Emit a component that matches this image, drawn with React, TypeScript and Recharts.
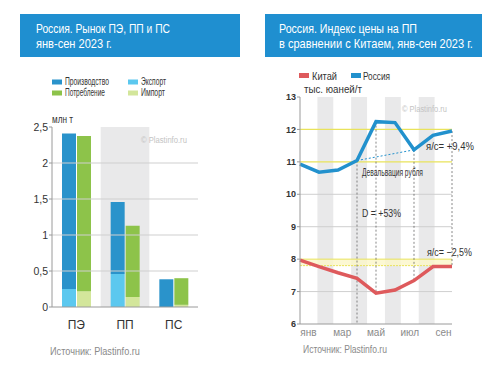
import React, { useLayoutEffect, useRef, useState } from 'react';
import { BarChart, Bar, XAxis, YAxis, ReferenceArea, ReferenceLine, LineChart, Line } from 'recharts';

// ---------- Left chart data ----------
const products = ['ПЭ', 'ПП', 'ПС'];
const production = [2.41, 1.46, 0.385];
const exportVol = [0.25, 0.46, 0.0];
const consumption = [2.375, 1.13, 0.4];
const importVol = [0.22, 0.14, 0.03];
const volumeTicks = [0, 0.5, 1, 1.5, 2, 2.5];

// ---------- Right chart data ----------
const months = ['янв', 'фев', 'мар', 'апр', 'май', 'июн', 'июл', 'авг', 'сен'];
const chinaPrice = [7.97, 7.77, 7.58, 7.41, 6.95, 7.05, 7.34, 7.77, 7.77];
const russiaPrice = [10.93, 10.68, 10.75, 11.04, 12.24, 12.21, 11.37, 11.82, 11.95];
const priceTicks = [6, 7, 8, 9, 10, 11, 12, 13];
const shadedMonths = ['фев', 'апр', 'июн', 'авг'];
const labeledMonths = ['янв', 'мар', 'май', 'июл', 'сен'];

const C = {
  header: '#1f8fd0',
  prod: '#2a93cb',
  exp: '#5cc8ef',
  cons: '#8dc34a',
  imp: '#d3e69b',
  band: '#e9e9ea',
  grid: '#cfcfcf',
  axis: '#9a9a9a',
  china: '#de5a5c',
  russia: '#2291cd',
  yellow: '#e9e35b',
  text: '#333',
  gray: '#8a8a8a',
};

const sans = '"Liberation Sans", Arial, sans-serif';

const barData = products.map((p, i) => ({
  name: p,
  exp: exportVol[i],
  prodRest: production[i] - exportVol[i],
  imp: importVol[i],
  consRest: consumption[i] - importVol[i],
}));

const lineData = months.map((m, i) => ({ i, m, china: chinaPrice[i], russia: russiaPrice[i] }));

const fmtComma = (v: number) => String(v).replace('.', ',');

type TProps = {
  x: number;
  y: number;
  w: number;
  size: number;
  color?: string;
  weight?: string | number;
  children: React.ReactNode;
};
// Text squeezed horizontally (condensed look) to a given width.
const T = ({ x, y, w, size, color = C.text, weight = 'normal', children }: TProps) => {
  const ref = useRef<SVGTextElement>(null);
  const [sx, setSx] = useState(1);
  useLayoutEffect(() => {
    if (ref.current) {
      const nat = ref.current.getComputedTextLength();
      if (nat > 0) setSx(w / nat);
    }
  }, [w, size]);
  return (
    <text
      ref={ref}
      x={0}
      y={0}
      transform={`translate(${x},${y}) scale(${sx},1)`}
      fontSize={size}
      fontFamily={sans}
      fontWeight={weight}
      fill={color}
    >
      {children}
    </text>
  );
};

export default function App() {
  const iApr = months.indexOf('апр');
  const iMay = months.indexOf('май');
  const iJul = months.indexOf('июл');
  const iSep = months.indexOf('сен');
  return (
    <div style={{ position: 'absolute', left: 0, top: 0, width: 500, height: 371, background: '#fff', overflow: 'hidden' }}>
      {/* ---------- Left chart ---------- */}
      <div style={{ position: 'absolute', left: 0, top: 0 }}>
        <BarChart
          width={250}
          height={371}
          data={barData}
          margin={{ top: 127, right: 52, bottom: 34, left: 12 }}
          barCategoryGap={10}
          barGap={1}
        >
          <XAxis
            dataKey="name"
            height={30}
            axisLine={{ stroke: C.axis }}
            tickLine={false}
            tickSize={0}
            tickMargin={13}
            tick={{ fontSize: 12, fill: C.text, fontFamily: sans }}
          />
          <YAxis
            width={40}
            domain={[0, 2.5]}
            ticks={volumeTicks}
            tickFormatter={fmtComma}
            axisLine={{ stroke: C.axis }}
            tickLine={{ stroke: C.axis }}
            tickSize={3}
            tickMargin={1}
            tick={{ fontSize: 10.5, fill: C.text, fontFamily: sans }}
          />
          <ReferenceArea x1="ПП" x2="ПП" y1={0} y2={2.5} fill={C.band} fillOpacity={1} stroke="none" />
          {volumeTicks.slice(1, -1).map((t) => (
            <ReferenceLine key={t} y={t} stroke={C.grid} strokeWidth={1} />
          ))}
          <Bar dataKey="exp" stackId="p" fill={C.exp} isAnimationActive={false} />
          <Bar dataKey="prodRest" stackId="p" fill={C.prod} isAnimationActive={false} />
          <Bar dataKey="imp" stackId="c" fill={C.imp} isAnimationActive={false} />
          <Bar dataKey="consRest" stackId="c" fill={C.cons} isAnimationActive={false} />
        </BarChart>
      </div>

      {/* ---------- Right chart ---------- */}
      <div style={{ position: 'absolute', left: 250, top: 0 }}>
        <LineChart
          width={250}
          height={371}
          data={lineData}
          margin={{ top: 97, right: 48, bottom: 27, left: 20 }}
        >
          <XAxis
            xAxisId="cat"
            type="number"
            dataKey="i"
            domain={[0, months.length]}
            allowDataOverflow
            ticks={labeledMonths.map((m) => months.indexOf(m) + 0.5)}
            tickFormatter={(v: number) => months[Math.floor(v)]}
            height={20}
            axisLine={{ stroke: C.axis }}
            tickLine={false}
            tickSize={0}
            tickMargin={5}
            tick={{ fontSize: 10, fill: C.gray, fontFamily: sans }}
          />
          <XAxis xAxisId="pts" type="number" dataKey="i" domain={[0, months.length - 1]} hide />
          <YAxis
            width={30}
            domain={[6, 13]}
            ticks={priceTicks}
            axisLine={{ stroke: C.axis }}
            tickLine={{ stroke: C.axis }}
            tickSize={3}
            tickMargin={1}
            tick={{ fontSize: 9, fill: C.text, fontFamily: sans, fontWeight: 'bold' }}
          />
          {shadedMonths.map((m) => {
            const k = months.indexOf(m);
            return (
              <ReferenceArea
                key={m}
                xAxisId="cat"
                x1={k + 0.03}
                x2={k + 0.97}
                y1={6}
                y2={13}
                fill={C.band}
                fillOpacity={1}
                stroke="none"
              />
            );
          })}
          {[7, 9, 10].map((t) => (
            <ReferenceLine key={t} xAxisId="pts" y={t} stroke={C.grid} strokeWidth={1} />
          ))}
          <ReferenceArea xAxisId="pts" y1={7.8} y2={8} fill="#fbf6c8" fillOpacity={0.8} stroke="none" />
          <ReferenceLine xAxisId="pts" y={8} stroke={C.yellow} strokeWidth={1} />
          <ReferenceLine xAxisId="pts" y={7.8} stroke={C.yellow} strokeWidth={1} strokeDasharray="2 1" />
          <ReferenceLine xAxisId="pts" y={11} stroke={C.yellow} strokeWidth={1.2} />
          <ReferenceLine xAxisId="pts" y={12} stroke={C.yellow} strokeWidth={1.2} />

          <ReferenceLine
            xAxisId="pts"
            segment={[{ x: iApr, y: russiaPrice[iApr] }, { x: iApr, y: 6 }]}
            stroke="#555"
            strokeWidth={0.7}
            strokeDasharray="2 2"
          />
          {[iMay, iJul, iSep].map((k) => (
            <ReferenceLine
              key={k}
              xAxisId="pts"
              segment={[{ x: k, y: russiaPrice[k] }, { x: k, y: chinaPrice[k] }]}
              stroke="#555"
              strokeWidth={0.7}
              strokeDasharray="2 2"
            />
          ))}
          <ReferenceLine
            xAxisId="pts"
            segment={[{ x: iApr, y: russiaPrice[iApr] }, { x: iJul, y: russiaPrice[iJul] }]}
            stroke={C.russia}
            strokeWidth={1}
            strokeDasharray="2 2"
          />

          <Line
            xAxisId="pts"
            dataKey="china"
            stroke={C.china}
            strokeWidth={3.5}
            dot={false}
            type="linear"
            isAnimationActive={false}
          />
          <Line
            xAxisId="pts"
            dataKey="russia"
            stroke={C.russia}
            strokeWidth={3.5}
            dot={false}
            type="linear"
            isAnimationActive={false}
          />
        </LineChart>
      </div>

      {/* ---------- Titles, legends and notes ---------- */}
      <svg width={500} height={371} style={{ position: 'absolute', left: 0, top: 0, pointerEvents: 'none' }}>
        <rect x={20} y={14} width={220} height={43} fill={C.header} />
        <T x={36} y={32.5} w={134} size={13} color="#fff">Россия. Рынок ПЭ, ПП и ПС</T>
        <T x={36} y={47.5} w={76} size={13} color="#fff">янв-сен 2023 г.</T>

        <rect x={265} y={14} width={217} height={43} fill={C.header} />
        <T x={279} y={32.5} w={138} size={13} color="#fff">Россия. Индекс цены на ПП</T>
        <T x={279} y={47.5} w={194} size={13} color="#fff">в сравнении с Китаем, янв-сен 2023 г.</T>

        <rect x={52} y={79.5} width={10} height={5} fill={C.prod} />
        <T x={65} y={85} w={44} size={10}>Производство</T>
        <rect x={128} y={79.5} width={10} height={5} fill={C.exp} />
        <T x={141} y={85} w={25} size={10}>Экспорт</T>
        <rect x={52} y={90.5} width={10} height={5} fill={C.cons} />
        <T x={65} y={96} w={40} size={10}>Потребление</T>
        <rect x={128} y={90.5} width={10} height={5} fill={C.imp} />
        <T x={141} y={96} w={24} size={10}>Импорт</T>

        <T x={52} y={123} w={21} size={10}>млн т</T>
        <T x={141} y={142.5} w={46} size={9} color="#c4c4c4">© Plastinfo.ru</T>
        <T x={50} y={354.5} w={90} size={10.5} color={C.gray}>Источник: Plastinfo.ru</T>

        <rect x={299} y={73} width={10} height={5} fill={C.china} />
        <T x={312} y={79.5} w={25} size={11}>Китай</T>
        <rect x={351} y={73} width={10} height={5} fill={C.russia} />
        <T x={363} y={79.5} w={27} size={11}>Россия</T>
        <T x={304} y={92.5} w={58} size={10}>тыс. юаней/т</T>
        <T x={402} y={112} w={45} size={9} color="#c4c4c4">© Plastinfo.ru</T>

        <T x={362} y={176} w={61} size={10}>Девальвация рубля</T>
        <T x={362} y={216.5} w={39} size={11}>D = +53%</T>
        <T x={426} y={150} w={48} size={11}>я/с= +9,4%</T>
        <T x={427} y={255.5} w={45} size={11}>я/с= −2,5%</T>
        <T x={303} y={353} w={84} size={10.5} color={C.gray}>Источник: Plastinfo.ru</T>
      </svg>
    </div>
  );
}
